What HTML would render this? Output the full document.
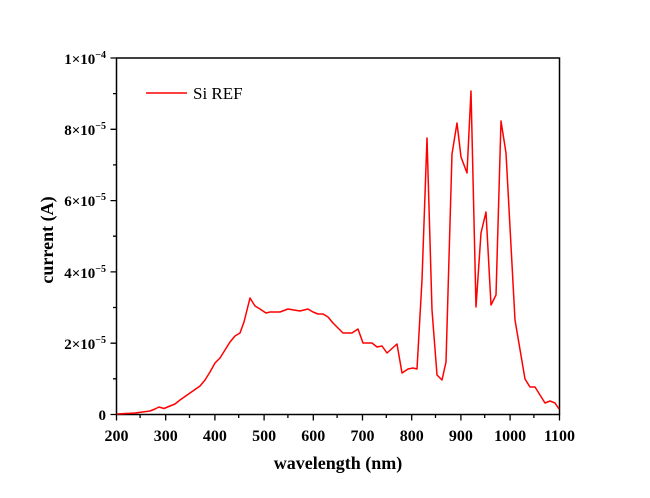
<!DOCTYPE html>
<html><head><style>body{margin:0;background:#fff}svg{display:block}</style></head><body>
<svg width="650" height="498" xmlns="http://www.w3.org/2000/svg" font-family="Liberation Serif, serif">
<rect width="650" height="498" fill="#fff"/>
<rect x="116.5" y="58" width="443" height="356.5" fill="none" stroke="#000" stroke-width="1.5"/>
<g stroke="#000" stroke-width="1.3">
<path d="M116.5 414.5v6M214.9 414.5v6M264.1 414.5v6M313.3 414.5v6M362.5 414.5v6M411.7 414.5v6M460.9 414.5v6M510.1 414.5v6M559.5 414.5v6M165.7 414.5v6
M140.1 414.5v3.5M189.5 414.5v3.5M238.7 414.5v3.5M287.9 414.5v3.5M337.1 414.5v3.5M386.3 414.5v3.5M435.5 414.5v3.5M484.7 414.5v3.5M533.9 414.5v3.5"/>
<path d="M116.5 414.5h-6M116.5 343.2h-6M116.5 271.9h-6M116.5 200.6h-6M116.5 129.3h-6M116.5 58h-6M116.5 378.8h-3.5M116.5 307.5h-3.5M116.5 236.2h-3.5M116.5 164.9h-3.5M116.5 93.6h-3.5"/>
</g>
<g font-size="16" font-weight="bold" text-anchor="middle">
<text x="116.5" y="441">200</text><text x="165.7" y="441">300</text><text x="214.9" y="441">400</text><text x="264.1" y="441">500</text><text x="313.3" y="441">600</text><text x="362.5" y="441">700</text><text x="411.7" y="441">800</text><text x="460.9" y="441">900</text><text x="510.1" y="441">1000</text><text x="559.5" y="441">1100</text>
</g>
<g font-size="15" font-weight="bold" text-anchor="end">
<text x="106" y="420">0</text>
<text x="106" y="349">2×10<tspan font-size="10" dy="-6">−5</tspan></text>
<text x="106" y="278">4×10<tspan font-size="10" dy="-6">−5</tspan></text>
<text x="106" y="206">6×10<tspan font-size="10" dy="-6">−5</tspan></text>
<text x="106" y="135">8×10<tspan font-size="10" dy="-6">−5</tspan></text>
<text x="106" y="64">1×10<tspan font-size="10" dy="-6">−4</tspan></text>
</g>
<text x="338" y="469" font-size="18" font-weight="bold" text-anchor="middle">wavelength (nm)</text>
<text transform="translate(53,240) rotate(-90)" font-size="18" font-weight="bold" text-anchor="middle">current (A)</text>
<line x1="146" y1="93" x2="187" y2="93" stroke="#f00" stroke-width="1.5"/>
<text x="193" y="99" font-size="17">Si REF</text>
<polyline fill="none" stroke="#f00" stroke-width="1.5" stroke-linejoin="round" points="117,414 135,413 150,411 155,409 159,407 164,408.5 170,406 175,404 180,400 190,393 200,386 205,380 210,372 215,363 220,358 225,350 230,342 235,336 240,333 244,322 250,298 255,306 260,309 266,313 270,312 280,312 288,309 300,311 308,309 313,312 318,314 323,314 328,317 333,323 343,333 352,333 358,329 363,343 372,343 377,347 382,346 387,353 397,344 402,373 408,369 413,368 417,369 422,280 427,138 432,310 437,375 442,380 446,362 452,154 457,123 461,157 467,173 471,91 476,307 481,233 486,212 491,305 496,295 501,121 506,153 515,320 525,379 530,387 535,387 545,403 550,401 555,403 559,409"/>
</svg>
</body></html>
